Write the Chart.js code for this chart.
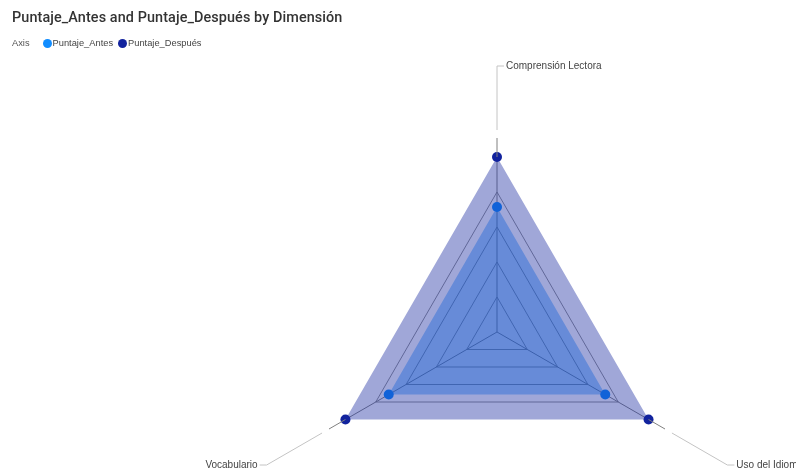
<!DOCTYPE html>
<html>
<head>
<meta charset="utf-8">
<script src="https://cdn.jsdelivr.net/npm/chart.js@4.4.1/dist/chart.umd.min.js"></script>
<style>
  html, body { margin: 0; padding: 0; width: 796px; height: 471px; overflow: hidden; background: #fff; }
  #title { position: absolute; left: 12px; top: 9px; font: 500 14.4px Roboto, sans-serif; color: #333; white-space: nowrap; z-index: 2; letter-spacing: 0.1px; }
  #legend { position: absolute; left: 12px; top: 38px; font: 9.3px "Liberation Sans", Arial, sans-serif; color: #444; white-space: nowrap; z-index: 2; display: flex; align-items: center; }
  #legend .lbl { margin-right: 13px; color: #555; }
  #legend .dot { display: inline-block; width: 9px; height: 9px; border-radius: 50%; margin-right: 1px; }
  #legend .item { display: flex; align-items: center; margin-right: 5px; }
  #wrap { position: absolute; left: 0; top: 0; width: 796px; height: 540px; }
</style>
</head>
<body>
<div id="title">Puntaje_Antes and Puntaje_Después by Dimensión</div>
<div id="legend"></div>
<div id="wrap"><canvas id="c" width="796" height="540"></canvas></div>
<script>
// Dimensions, clockwise from the top
const dimensiones = ['Comprensión Lectora', 'Uso del Idioma', 'Vocabulario'];
// Scores per dimension
const puntajeAntes = [2.5, 2.5, 2.5];
const puntajeDespues = [3.5, 3.5, 3.5];
// Radial scale range
const escalaMin = 0;
const escalaMax = 3.5;
const escalaPasos = 6;

const series = [
  { name: 'Puntaje_Antes', color: '#118DFF', fill: 'rgba(17,141,255,0.4)', values: puntajeAntes, order: 2 },
  { name: 'Puntaje_Después', color: '#12239E', fill: 'rgba(18,35,158,0.4)', values: puntajeDespues, order: 1 }
];

// Legend row
const legend = document.getElementById('legend');
legend.innerHTML = '<span class="lbl">Axis</span>' + series.map(s =>
  '<span class="item"><span class="dot" style="background:' + s.color + '"></span>' + s.name + '</span>'
).join('');

// Leader lines from each axis end out to its label
const leaderLabels = {
  id: 'leaderLabels',
  afterDraw(chart) {
    const r = chart.scales.r;
    const ctx = chart.ctx;
    const outer = r.getDistanceFromCenterForValue(escalaMax);
    const innerEnd = outer + 19;
    const gapEnd = outer + 27;
    const tip = outer + 91;
    ctx.save();
    ctx.font = '10px "Liberation Sans", Arial, sans-serif';
    ctx.textBaseline = 'middle';
    dimensiones.forEach((name, i) => {
      const a = r.getPointPosition(i, outer);
      const b = r.getPointPosition(i, innerEnd);
      const c = r.getPointPosition(i, gapEnd);
      const d = r.getPointPosition(i, tip);
      ctx.lineWidth = 1;
      ctx.strokeStyle = '#808080';
      ctx.beginPath(); ctx.moveTo(a.x, a.y); ctx.lineTo(b.x, b.y); ctx.stroke();
      const goesLeft = d.x < r.xCenter - 1;
      const hx = goesLeft ? d.x - 7 : d.x + 7;
      ctx.strokeStyle = '#c4c4c4';
      ctx.beginPath(); ctx.moveTo(c.x, c.y); ctx.lineTo(d.x, d.y); ctx.lineTo(hx, d.y); ctx.stroke();
      ctx.fillStyle = '#444';
      ctx.textAlign = goesLeft ? 'right' : 'left';
      ctx.fillText(name, goesLeft ? hx - 2 : hx + 2, d.y);
    });
    ctx.restore();
  }
};

new Chart(document.getElementById('c'), {
  type: 'radar',
  data: {
    labels: dimensiones,
    datasets: series.map(s => ({
      label: s.name,
      data: s.values,
      order: s.order,
      backgroundColor: s.fill,
      borderWidth: 0,
      borderColor: 'rgba(0,0,0,0)',
      fill: true,
      pointRadius: 5,
      pointBorderWidth: 0,
      pointBackgroundColor: s.color
    }))
  },
  options: {
    responsive: false,
    animation: false,
    devicePixelRatio: 1,
    layout: { padding: { left: 322, right: 124, top: 157, bottom: 33 } },
    plugins: { legend: { display: false }, title: { display: false }, tooltip: { enabled: false } },
    scales: {
      r: {
        min: escalaMin,
        max: escalaMax,
        ticks: { display: false, count: escalaPasos },
        grid: {
          // outermost ring is left to the polygon edge
          color: (ctx) => ctx.index === escalaPasos - 1 ? 'rgba(0,0,0,0)' : '#959595',
          lineWidth: 1
        },
        angleLines: { color: '#858585', lineWidth: 1 },
        pointLabels: { display: false }
      }
    }
  },
  plugins: [leaderLabels]
});
</script>
</body>
</html>
